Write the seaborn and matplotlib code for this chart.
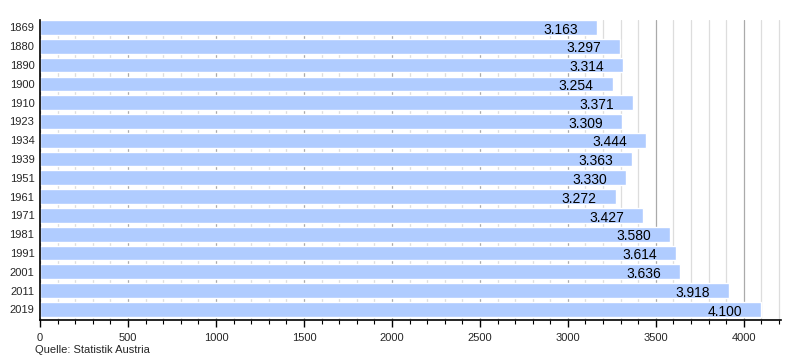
import matplotlib
matplotlib.use("Agg")
import matplotlib.pyplot as plt
import seaborn as sns
import pandas as pd
from matplotlib.ticker import MultipleLocator

years = ["1869", "1880", "1890", "1900", "1910", "1923", "1934", "1939",
         "1951", "1961", "1971", "1981", "1991", "2001", "2011", "2019"]
population = [3163, 3297, 3314, 3254, 3371, 3309, 3444, 3363,
              3330, 3272, 3427, 3580, 3614, 3636, 3918, 4100]

df = pd.DataFrame({"Jahr": years, "Einwohner": population})

sns.set_theme(style="white")
plt.rcParams['font.family'] = ['Liberation Sans', 'DejaVu Sans']

fig = plt.figure(figsize=(8, 3.6), dpi=100)
ax = fig.add_axes([0.05, 0.111, 0.926, 0.833])

ax.xaxis.set_major_locator(MultipleLocator(500))
ax.xaxis.set_minor_locator(MultipleLocator(100))
ax.grid(True, which="major", axis="x", color="#aaaaaa", linewidth=0.9)
ax.grid(True, which="minor", axis="x", color="#dddddd", linewidth=0.9)
ax.set_axisbelow(True)

sns.barplot(data=df, x="Einwohner", y="Jahr", orient="h", color="#b0ccff",
            saturation=1, width=0.78, ax=ax, zorder=2)

for i, v in enumerate(population):
    label = f"{v/1000:.3f}"
    ax.annotate(label, xy=(v, i), xytext=(-13.7, -0.5), textcoords="offset points",
                ha="right", va="center_baseline", fontsize=10, color="#000000", zorder=3)

ax.set_xlim(0, 4210)
ax.set_ylim(15.57, -0.39)
ax.set_xlabel("")
ax.set_ylabel("")

for s in ["top", "right"]:
    ax.spines[s].set_visible(False)
ax.spines["left"].set_color("black")
ax.spines["bottom"].set_color("black")
ax.spines["left"].set_linewidth(1.2)
ax.spines["bottom"].set_linewidth(1.2)

ax.tick_params(axis="y", length=0, labelsize=8, pad=4)
ax.tick_params(axis="x", which="major", length=5, width=1, color="black",
               direction="out", labelsize=8, pad=4, bottom=True)
ax.tick_params(axis="x", which="minor", length=3, width=0.8, color="black",
               direction="out", bottom=True)

fig.text(0.044, 0.027, "Quelle: Statistik Austria", fontsize=8, ha="left", va="center")

fig.savefig("out.png", dpi=100)
